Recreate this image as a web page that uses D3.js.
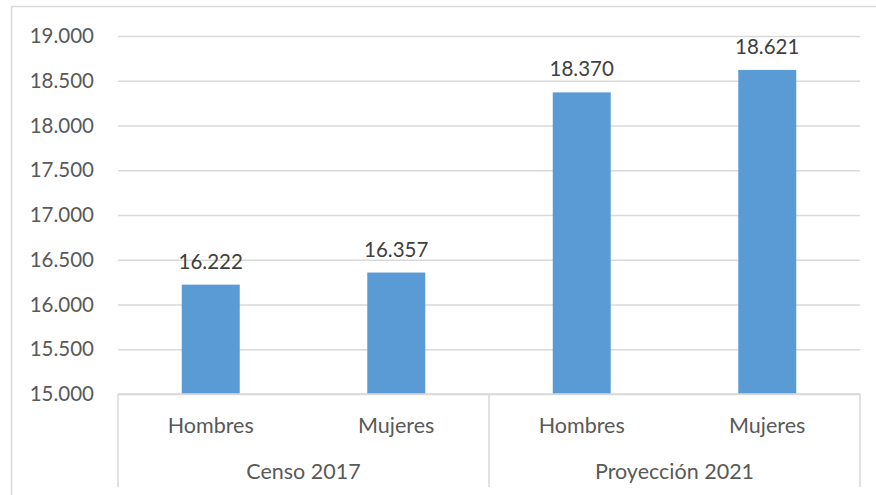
<!DOCTYPE html>
<html>
<head>
<meta charset="utf-8">
<script src="https://cdn.jsdelivr.net/npm/d3@7"></script>
<style>
  body { margin: 0; background: #fff; }
  svg text { font-family: Lato, "Open Sans", sans-serif; }
</style>
</head>
<body>
<div id="chart"></div>
<script>
// data
var groups = ['Censo 2017', 'Proyección 2021'];
var sexes = ['Hombres', 'Mujeres'];
var values = [16222, 16357, 18370, 18621];
var yTicks = [15000, 15500, 16000, 16500, 17000, 17500, 18000, 18500, 19000];

(function() {
  var width = 876, height = 495;
  var left = 118, right = 860, top = 36, base = 394;
  var grey = '#d9d9d9', barColor = '#5b9bd5';
  var fmt = function(v) { return d3.format(',')(v).replace(/,/g, '.'); };

  var cats = [];
  groups.forEach(function(g) {
    sexes.forEach(function(s) { cats.push(g + '|' + s); });
  });

  var svg = d3.select('#chart').append('svg')
    .attr('width', width).attr('height', height);

  // chart frame
  svg.append('rect')
    .attr('x', 11.5).attr('y', 6.5)
    .attr('width', width).attr('height', height)
    .attr('fill', 'none').attr('stroke', grey).attr('stroke-width', 1.5);

  var x = d3.scaleBand().domain(cats).range([left, right])
    .paddingInner(0.6875).paddingOuter(0.34375);
  var xg = d3.scaleBand().domain(groups).range([left, right]);
  var y = d3.scaleLinear().domain([15000, 19000]).range([base, top]);

  // grid + y axis labels
  var yAxis = d3.axisLeft(y).tickValues(yTicks)
    .tickSize(-(right - left)).tickPadding(24).tickFormat(fmt);
  var ga = svg.append('g').attr('transform', 'translate(' + left + ',0)').call(yAxis);
  ga.select('.domain').remove();
  ga.selectAll('.tick line').attr('stroke', grey).attr('stroke-width', 1.5);
  ga.selectAll('.tick text').attr('fill', '#595959').style('font-size', '20.5px');

  // bars
  svg.selectAll('rect.bar').data(values).enter().append('rect')
    .attr('class', 'bar')
    .attr('x', function(d, i) { return x(cats[i]); })
    .attr('width', x.bandwidth())
    .attr('y', function(d) { return y(d); })
    .attr('height', function(d) { return base - y(d); })
    .attr('fill', barColor);

  // value labels
  svg.selectAll('text.val').data(values).enter().append('text')
    .attr('class', 'val')
    .attr('x', function(d, i) { return x(cats[i]) + x.bandwidth() / 2; })
    .attr('y', function(d) { return y(d) - 16; })
    .attr('text-anchor', 'middle')
    .attr('fill', '#404040')
    .style('font-size', '20.5px')
    .text(fmt);

  // category axis
  svg.append('line')
    .attr('x1', left).attr('x2', right).attr('y1', base).attr('y2', base)
    .attr('stroke', grey).attr('stroke-width', 1.5);
  var seps = [left].concat(groups.map(function(g) { return xg(g) + xg.bandwidth(); }));
  svg.selectAll('line.sep').data(seps).enter().append('line')
    .attr('class', 'sep')
    .attr('x1', function(d) { return d; }).attr('x2', function(d) { return d; })
    .attr('y1', base).attr('y2', 487)
    .attr('stroke', grey).attr('stroke-width', 1.5);

  svg.selectAll('text.cat').data(cats).enter().append('text')
    .attr('class', 'cat')
    .attr('x', function(d) { return x(d) + x.bandwidth() / 2; })
    .attr('y', 433)
    .attr('text-anchor', 'middle')
    .attr('fill', '#595959')
    .style('font-size', '21.5px')
    .text(function(d) { return d.split('|')[1]; });

  svg.selectAll('text.grp').data(groups).enter().append('text')
    .attr('class', 'grp')
    .attr('x', function(d) { return xg(d) + xg.bandwidth() / 2; })
    .attr('y', 479)
    .attr('text-anchor', 'middle')
    .attr('fill', '#595959')
    .style('font-size', '21.5px')
    .text(function(d) { return d; });
})();
</script>
</body>
</html>
